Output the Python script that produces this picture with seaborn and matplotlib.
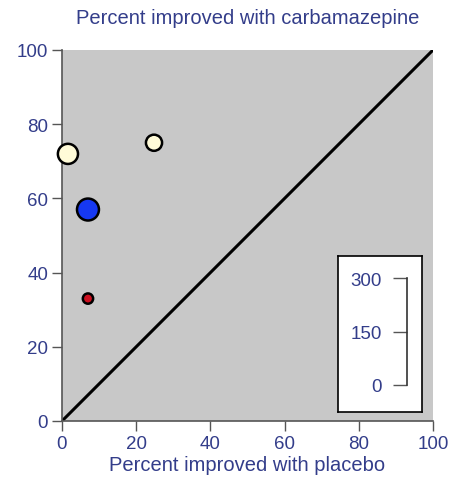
import matplotlib
matplotlib.use("Agg")
import matplotlib.pyplot as plt
import seaborn as sns
import pandas as pd

# Studies: placebo response vs. carbamazepine response, bubble area ~ sample size
placebo_pct = [1.6, 24.8, 7.0, 7.0]
carbamazepine_pct = [72.0, 75.0, 57.0, 33.0]
sample_size = [210, 135, 250, 55]
study = ["A", "B", "C", "D"]
study_colors = {"A": "#fffbd8", "B": "#fffbd8", "C": "#1638f2", "D": "#cc1020"}

axis_ticks = [0, 20, 40, 60, 80, 100]
size_ticks = [0, 150, 300]

text_color = "#333d8a"
spine_color = "#555555"

sns.set_theme(style="white")
plt.rcParams["font.family"] = ["Liberation Sans", "DejaVu Sans"]

df = pd.DataFrame({"placebo": placebo_pct, "carbamazepine": carbamazepine_pct,
                   "n": sample_size, "study": study})

fig = plt.figure(figsize=(4.55, 4.81), dpi=100)
ax = fig.add_axes([62 / 455, 1 - 422 / 481, 371 / 455, 371 / 481])
ax.set_facecolor("#c8c8c8")

# line of no difference
sns.lineplot(x=[0, 100], y=[0, 100], color="black", linewidth=2.2, ax=ax, zorder=2)

sns.scatterplot(data=df, x="placebo", y="carbamazepine", size="n", hue="study",
                palette=study_colors, sizes=(0, 300), size_norm=(0, 300),
                edgecolor="black", linewidth=1.8, legend=False, ax=ax, zorder=3,
                clip_on=False)

ax.set_xlim(0, 100)
ax.set_ylim(0, 100)
ax.set_xticks(axis_ticks)
ax.set_yticks(axis_ticks)
for side in ("top", "right"):
    ax.spines[side].set_visible(False)
for side in ("left", "bottom"):
    ax.spines[side].set_color(spine_color)
    ax.spines[side].set_linewidth(1.2)
ax.tick_params(axis="both", which="both", length=7, width=1, color=spine_color,
               labelsize=13.5, labelcolor=text_color, pad=3,
               left=True, bottom=True)
ax.set_xlabel("Percent improved with placebo", fontsize=14.5, color=text_color, labelpad=2)
ax.set_ylabel("")
fig.text(247.5 / 455, 1 - 18 / 481, "Percent improved with carbamazepine",
         ha="center", va="center", fontsize=14.5, color=text_color)

# size key: white box with a bracket scale
box_ax = fig.add_axes([338 / 455, 1 - 413 / 481, 84 / 455, 156 / 481])
box_ax.set_facecolor("white")
box_ax.set_xticks([])
box_ax.set_yticks([])
for s in box_ax.spines.values():
    s.set_color("black")
    s.set_linewidth(1.2)

key_ax = fig.add_axes([407 / 455, 1 - 386 / 481, 0.0001, 107 / 481])
key_ax.set_ylim(0, 300)
key_ax.set_yticks(size_ticks)
key_ax.set_xticks([])
key_ax.patch.set_visible(False)
for side in ("top", "right", "bottom"):
    key_ax.spines[side].set_visible(False)
key_ax.spines["left"].set_color("#333333")
key_ax.spines["left"].set_linewidth(1.2)
key_ax.tick_params(axis="y", left=True, length=10, width=1, color="#555555",
                   labelsize=13.5, labelcolor=text_color, pad=8)

fig.savefig("out.png", dpi=100)
